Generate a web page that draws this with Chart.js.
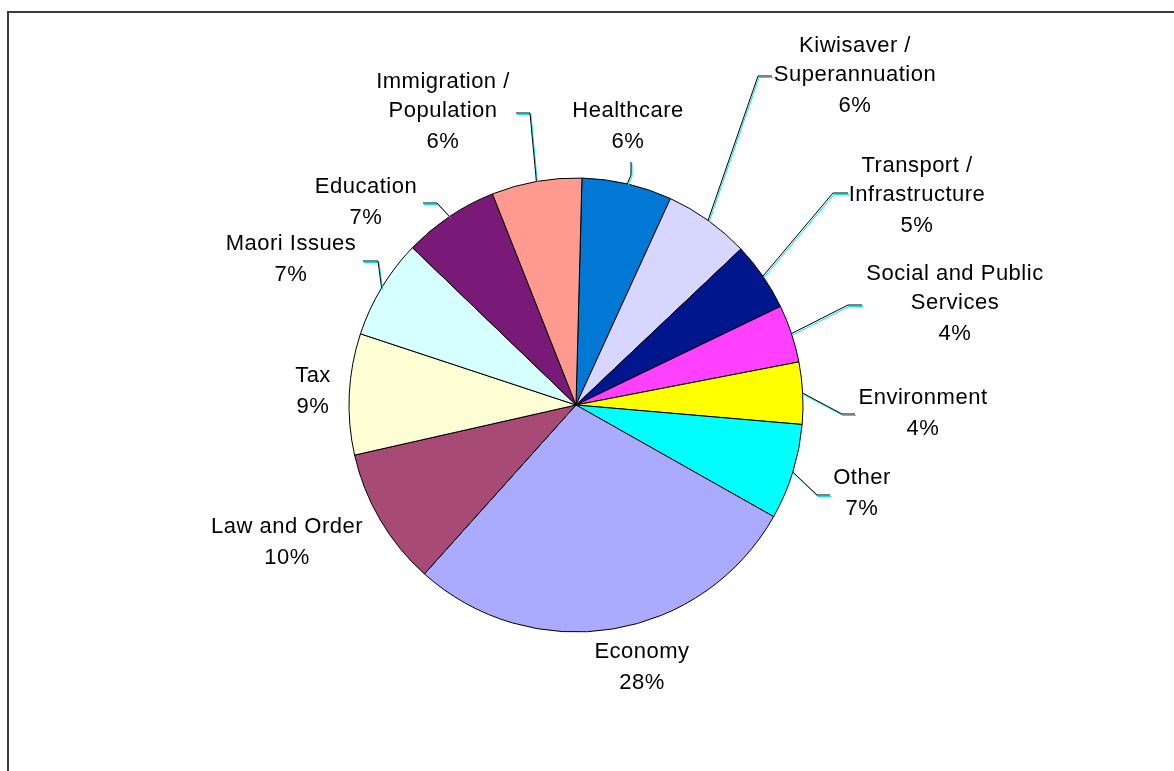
<!DOCTYPE html>
<html>
<head>
<meta charset="utf-8">
<title>Most important issue</title>
<script src="https://cdn.jsdelivr.net/npm/chart.js@4/dist/chart.umd.min.js"></script>
<style>
  html, body { margin: 0; padding: 0; background: #ffffff; overflow: hidden; }
  #wrap { position: relative; width: 1174px; height: 771px; }
</style>
</head>
<body>
<div id="wrap"><canvas id="pie" width="1174" height="771"></canvas></div>
<script>
// Issue categories, clockwise from twelve o'clock (multi-line names as arrays)
const categories = [
  ['Healthcare'],
  ['Kiwisaver /', 'Superannuation'],
  ['Transport /', 'Infrastructure'],
  ['Social and Public', 'Services'],
  ['Environment'],
  ['Other'],
  ['Economy'],
  ['Law and Order'],
  ['Tax'],
  ['Maori Issues'],
  ['Education'],
  ['Immigration /', 'Population']
];

// Share of responses (%)
const shares = [6.4, 6.1, 4.9, 4.1, 4.4, 6.8, 28.4, 9.8, 8.6, 7.1, 6.8, 6.4];

// Slice fills
const sliceColors = [
  '#0078D4', '#D6D6FF', '#00168C', '#FF40FF', '#FFFF00', '#00FFFF',
  '#AAAAFF', '#A84A76', '#FFFFD6', '#D6FFFF', '#7A1A78', '#FF9A90'
];

// Label placement relative to the pie centre: text centre x, first baseline y
const labelPos = [
  [52, -288], [279, -353], [341, -233], [379, -125], [347, -1], [286, 79],
  [66, 253], [-289, 128], [-263, -23], [-285, -155], [-210, -212], [-133, -317]
];

// Leader line bends: [elbow, end] relative to the pie centre (null = no leader)
const leaderPath = [
  [[55, -230], [55, -243]],
  [[182, -329], [196, -329]],
  [[257, -212], [272, -212]],
  [[272, -100], [286, -100]],
  [[266, 9], [279, 9]],
  [[241, 90], [254, 90]],
  null,
  null,
  null,
  [[-198, -144], [-213, -144]],
  [[-139, -202], [-153, -202]],
  [[-46, -292], [-60, -292]]
];

const FONT = '22px "Liberation Sans", Arial, sans-serif';
const NAME_GAP = 29;
const PCT_GAP = 31;

// Chart frame: left and top edges
const framePlugin = {
  id: 'frame',
  beforeDraw(chart) {
    const ctx = chart.ctx;
    ctx.save();
    ctx.fillStyle = '#ffffff';
    ctx.fillRect(0, 0, chart.width, chart.height);
    ctx.fillStyle = '#3c3c3c';
    ctx.fillRect(7, 11, 2, chart.height - 11);
    ctx.fillRect(7, 11, chart.width - 7, 2);
    ctx.restore();
  }
};

// Outside labels with leader lines
const labelPlugin = {
  id: 'outsideLabels',
  afterDatasetsDraw(chart) {
    const ctx = chart.ctx;
    const meta = chart.getDatasetMeta(0);
    const data = chart.data.datasets[0].data;
    const total = data.reduce((a, b) => a + b, 0);
    ctx.save();
    meta.data.forEach((arc, i) => {
      const p = arc.getProps(['x', 'y', 'startAngle', 'endAngle', 'outerRadius'], true);
      const cx = p.x, cy = p.y;
      const mid = (p.startAngle + p.endAngle) / 2;
      const path = leaderPath[i];
      if (path) {
        const sx = cx + Math.cos(mid) * p.outerRadius;
        const sy = cy + Math.sin(mid) * p.outerRadius;
        const pts = [[sx, sy], [cx + path[0][0], cy + path[0][1]], [cx + path[1][0], cy + path[1][1]]];
        const stroke = (color, ox, oy) => {
          ctx.beginPath();
          ctx.moveTo(pts[0][0] + ox, pts[0][1] + oy);
          ctx.lineTo(pts[1][0] + ox, pts[1][1] + oy);
          ctx.lineTo(pts[2][0] + ox, pts[2][1] + oy);
          ctx.strokeStyle = color;
          ctx.lineWidth = 1;
          ctx.stroke();
        };
        stroke('#00E8F0', 1, 1.5);
        stroke('#000000', 0, 0);
      }
      const lx = cx + labelPos[i][0];
      let ly = cy + labelPos[i][1];
      ctx.font = FONT;
      if ('letterSpacing' in ctx) ctx.letterSpacing = '0.5px';
      ctx.fillStyle = '#000000';
      ctx.textAlign = 'center';
      ctx.textBaseline = 'alphabetic';
      const lines = chart.data.labels[i];
      lines.forEach((line, k) => {
        ctx.fillText(line, lx, ly);
        if (k < lines.length - 1) ly += NAME_GAP;
      });
      ly += PCT_GAP;
      ctx.fillText(Math.round(data[i] / total * 100) + '%', lx, ly);
    });
    ctx.restore();
  }
};

new Chart(document.getElementById('pie'), {
  type: 'pie',
  data: {
    labels: categories,
    datasets: [{
      data: shares,
      backgroundColor: sliceColors,
      borderColor: '#000000',
      borderWidth: 1,
      hoverOffset: 0,
      radius: 227
    }]
  },
  options: {
    responsive: false,
    animation: false,
    rotation: 1.5,
    layout: { padding: { left: 100, right: 122, top: 59, bottom: 20 } },
    plugins: {
      legend: { display: false },
      tooltip: { enabled: false }
    },
    events: []
  },
  plugins: [framePlugin, labelPlugin]
});
</script>
</body>
</html>
